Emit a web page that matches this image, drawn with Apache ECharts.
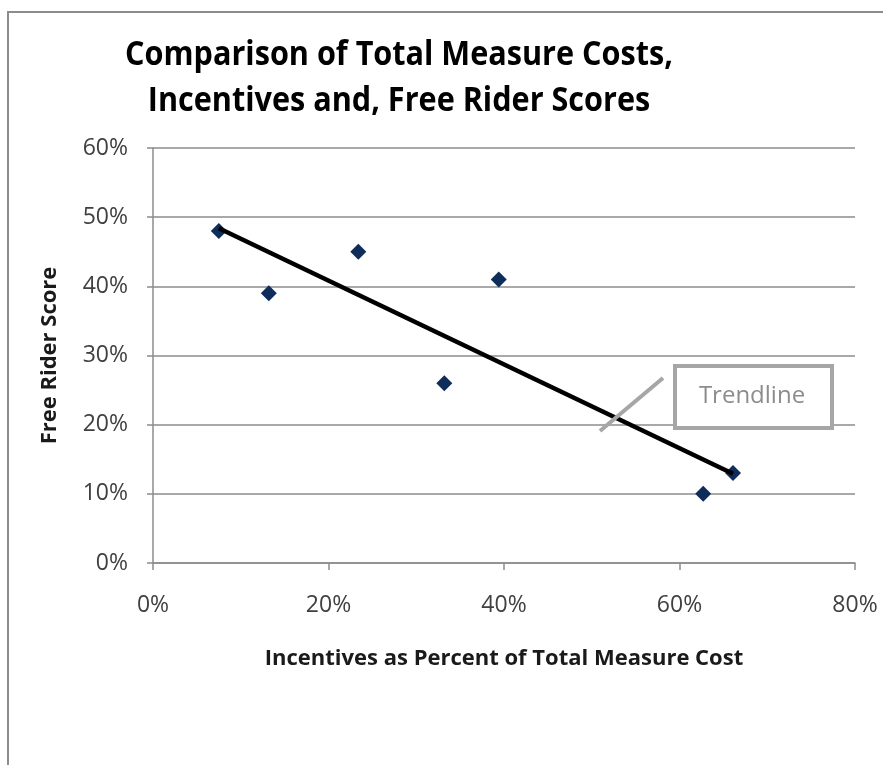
<!DOCTYPE html>
<html>
<head>
<meta charset="utf-8">
<script src="https://cdn.jsdelivr.net/npm/echarts@6/dist/echarts.min.js"></script>
<style>
html,body{margin:0;padding:0;background:#fff;}
#chart{width:883px;height:765px;}
</style>
</head>
<body>
<div id="chart"></div>
<script>
var titleLines = ['Comparison of Total Measure Costs,', 'Incentives and, Free Rider Scores'];
var xAxisName = 'Incentives as Percent of Total Measure Cost';
var yAxisName = 'Free Rider Score';
// incentives as percent of total measure cost (%)
var incentivePct = [7.5, 13.2, 23.4, 33.2, 39.4, 62.7, 66.1];
// free rider score (%)
var freeRiderPct = [48, 39, 45, 26, 41, 10, 13];
// trendline endpoints [x%, y%]
var trendX = [7.5, 66.1];
var trendY = [48.4, 12.9];
var calloutText = 'Trendline';

var FONT = '"Open Sans", sans-serif';
var points = incentivePct.map(function (x, i) { return [x, freeRiderPct[i]]; });
var trend = trendX.map(function (x, i) { return [x, trendY[i]]; });

var chart = echarts.init(document.getElementById('chart'), null, {renderer: 'canvas'});
chart.setOption({
  backgroundColor: '#ffffff',
  animation: false,
  grid: {left: 153, right: 28, top: 148, bottom: 202},
  xAxis: {
    type: 'value', min: 0, max: 80, interval: 20,
    name: xAxisName, nameLocation: 'middle', nameGap: 85,
    nameTextStyle: {fontFamily: FONT, fontWeight: 'bold', fontSize: 22, color: '#1a1a1a'},
    axisLine: {show: true, lineStyle: {color: '#8c8c8c', width: 1.5}},
    axisTick: {show: true, length: 7, lineStyle: {color: '#8c8c8c', width: 1.5}},
    axisLabel: {formatter: '{value}%', margin: 31, fontFamily: FONT, fontSize: 23, color: '#404040'},
    splitLine: {show: false}
  },
  yAxis: {
    type: 'value', min: 0, max: 60, interval: 10,
    name: yAxisName, nameLocation: 'middle', nameGap: 92,
    nameTextStyle: {fontFamily: FONT, fontWeight: 'bold', fontSize: 22, color: '#1a1a1a'},
    axisLine: {show: true, lineStyle: {color: '#8c8c8c', width: 1.5}},
    axisTick: {show: true, length: 6, lineStyle: {color: '#8c8c8c', width: 1.5}},
    axisLabel: {formatter: '{value}%', margin: 25, fontFamily: FONT, fontSize: 23, color: '#404040'},
    splitLine: {show: true, lineStyle: {color: '#8c8c8c', width: 1.5}}
  },
  series: [
    {
      type: 'scatter', data: points, symbol: 'diamond', symbolSize: 16,
      itemStyle: {color: '#0F2D5A', opacity: 1}, z: 3
    },
    {
      type: 'line', data: trend, showSymbol: false, symbol: 'none',
      lineStyle: {color: '#000000', width: 4.5}, z: 4
    }
  ],
  graphic: [
    {type: 'rect', shape: {x: 8, y: 12, width: 900, height: 800}, style: {fill: 'none', stroke: '#8c8c8c', lineWidth: 2}, z: -1, silent: true},
    {type: 'text', x: 399, y: 32, scaleX: 0.9, style: {text: titleLines.join('\n'), fontFamily: FONT, fontWeight: 'bold', fontSize: 34, lineHeight: 46, fill: '#000000', align: 'center', verticalAlign: 'top'}},
    {type: 'line', shape: {x1: 600, y1: 431, x2: 663, y2: 378}, style: {stroke: '#a6a6a6', lineWidth: 4}, z: 10},
    {type: 'rect', shape: {x: 675, y: 366, width: 157, height: 62}, style: {fill: '#ffffff', stroke: '#a6a6a6', lineWidth: 4}, z: 10},
    {type: 'text', x: 752, y: 396, style: {text: calloutText, fontFamily: FONT, fontSize: 24, fill: '#8c8c8c', align: 'center', verticalAlign: 'middle'}, z: 11}
  ]
});
</script>
</body>
</html>
